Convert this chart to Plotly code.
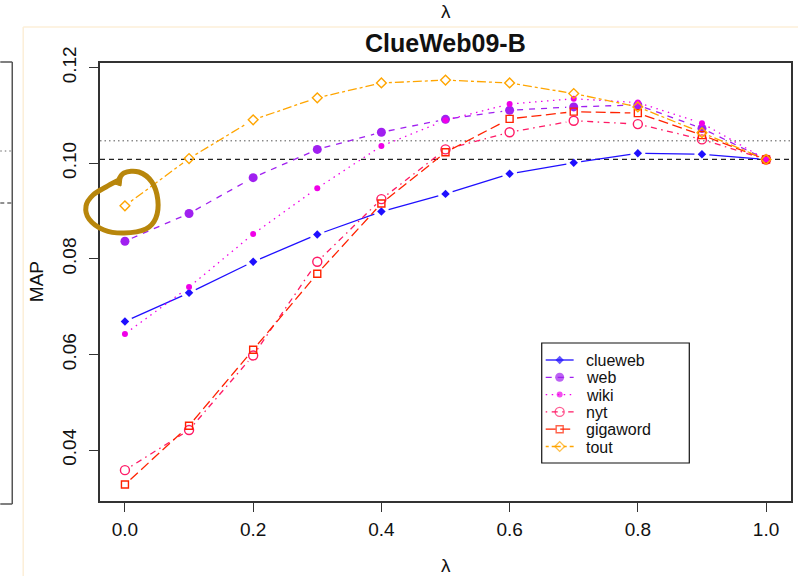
import math
import plotly.graph_objects as go

# ---------------- data ----------------
lam = [0.0, 0.1, 0.2, 0.3, 0.4, 0.5, 0.6, 0.7, 0.8, 0.9, 1.0]
clueweb  = [0.0669, 0.0729, 0.0794, 0.0851, 0.0899, 0.0936, 0.0978, 0.1001, 0.1021, 0.1019, 0.1008]
web      = [0.0837, 0.0895, 0.0970, 0.1029, 0.1065, 0.1092, 0.1111, 0.1118, 0.1122, 0.1073, 0.1008]
wiki     = [0.0643, 0.0741, 0.0852, 0.0948, 0.1036, 0.1090, 0.1124, 0.1135, 0.1127, 0.1084, 0.1008]
nyt      = [0.0358, 0.0442, 0.0598, 0.0794, 0.0925, 0.1029, 0.1065, 0.1089, 0.1082, 0.1050, 0.1008]
gigaword = [0.0328, 0.0451, 0.0610, 0.0769, 0.0916, 0.1023, 0.1093, 0.1108, 0.1105, 0.1059, 0.1008]
tout     = [0.0911, 0.1010, 0.1091, 0.1137, 0.1168, 0.1174, 0.1168, 0.1146, 0.1118, 0.1064, 0.1008]
series_names = ["clueweb", "web", "wiki", "nyt", "gigaword", "tout"]
series_vals = [clueweb, web, wiki, nyt, gigaword, tout]
baseline_dashed = 0.1008
baseline_dotted = 0.1047
x_ticks = [0.0, 0.2, 0.4, 0.6, 0.8, 1.0]
x_ticklabels = ["0.0", "0.2", "0.4", "0.6", "0.8", "1.0"]
y_ticks = [0.04, 0.06, 0.08, 0.10, 0.12]
y_ticklabels = ["0.04", "0.06", "0.08", "0.10", "0.12"]
title = "ClueWeb09-B"
xlabel = "λ"
ylabel = "MAP"

# ---------------- styles ----------------
W, H = 800, 576
ML, MR, MT, MB = 100, 7, 63, 75
PW, PH = W - ML - MR, H - MT - MB
XR = [-0.0389, 1.0389]
YR = [0.02935, 0.12098]
SX = PW / (XR[1] - XR[0])
SY = PH / (YR[1] - YR[0])
FONT = "Liberation Sans, Arial, Helvetica, sans-serif"

styles = {
    "clueweb":  dict(color="#1f0fff", dash="solid",              symbol="diamond",      size=6.5, open=False),
    "web":      dict(color="#a020f0", dash="6px,6px",            symbol="circle",       size=9,   open=False),
    "wiki":     dict(color="#f000e8", dash="1.5px,4.5px",        symbol="circle",       size=6,   open=False),
    "nyt":      dict(color="#ff1a66", dash="1.5px,4.5px,6px,4.5px", symbol="circle-open", size=9, open=True),
    "gigaword": dict(color="#ff2200", dash="10px,4.5px",         symbol="square-open",  size=7,   open=True),
    "tout":     dict(color="#ffa500", dash="3px,3px,9px,3px",    symbol="diamond-open", size=7.5, open=True),
}


def px2paper(px, py):
    return (px - ML) / PW, (H - MB - py) / PH


def gapped(xs, ys, gap=7.5):
    X, Y = [], []
    for i in range(len(xs) - 1):
        dx = (xs[i + 1] - xs[i]) * SX
        dy = (ys[i + 1] - ys[i]) * SY
        L = math.hypot(dx, dy)
        if L <= 2 * gap:
            continue
        f = gap / L
        X += [xs[i] + (xs[i + 1] - xs[i]) * f, xs[i + 1] - (xs[i + 1] - xs[i]) * f, None]
        Y += [ys[i] + (ys[i + 1] - ys[i]) * f, ys[i + 1] - (ys[i + 1] - ys[i]) * f, None]
    return X, Y


fig = go.Figure()

# series lines (R type="b": gaps around points)
for name, vals in zip(series_names, series_vals):
    st = styles[name]
    gx, gy = gapped(lam, vals)
    fig.add_trace(go.Scatter(x=gx, y=gy, mode="lines", showlegend=False, hoverinfo="skip",
                             line=dict(color=st["color"], width=1.3, dash=st["dash"])))
for name, vals in zip(series_names, series_vals):
    st = styles[name]
    mk = dict(symbol=st["symbol"], size=st["size"], color=st["color"])
    if st["open"]:
        mk["line"] = dict(color=st["color"], width=1.4)
    else:
        mk["line"] = dict(width=0)
    fig.add_trace(go.Scatter(x=lam, y=vals, mode="markers", name=name, showlegend=False,
                             marker=mk, cliponaxis=False))

shapes = []
# horizontal reference lines
shapes.append(dict(type="line", xref="paper", yref="y", x0=0, x1=1, y0=baseline_dashed, y1=baseline_dashed,
                   line=dict(color="#222222", width=1.2, dash="5px,4px"), layer="below"))
shapes.append(dict(type="line", xref="paper", yref="y", x0=0, x1=1, y0=baseline_dotted, y1=baseline_dotted,
                   line=dict(color="#555555", width=1, dash="1.5px,3px"), layer="below"))

# ---------------- manual legend (R style) ----------------
LB = (543, 343, 691, 463)
x0, y0 = px2paper(LB[0], LB[1])
x1, y1 = px2paper(LB[2], LB[3])
shapes.append(dict(type="rect", xref="paper", yref="paper", x0=x0, x1=x1, y0=y1, y1=y0,
                   line=dict(color="#111111", width=1.2), fillcolor="white", layer="below"))
annotations = []
for i, name in enumerate(series_names):
    st = styles[name]
    ey = 360 + i * 17.3
    lx0, ly = px2paper(547, ey)
    lx1, _ = px2paper(575, ey)
    mx, _ = px2paper(561, ey)
    tx, ty = px2paper(586, ey + 0.5)
    mk = dict(symbol=st["symbol"], size=[0, st["size"], 0], color=st["color"])
    if st["open"]:
        mk["line"] = dict(color=st["color"], width=1.4)
    else:
        mk["line"] = dict(width=0)
    fig.add_trace(go.Scatter(x=[lx0, mx, lx1], y=[ly, ly, ly], mode="lines+markers", xaxis="x2", yaxis="y2",
                             showlegend=False, hoverinfo="skip", cliponaxis=False,
                             line=dict(color=st["color"], width=1.3, dash=st["dash"]), marker=mk))
    annotations.append(dict(x=tx, y=ty, xref="paper", yref="paper", text=name, showarrow=False,
                            xanchor="left", yanchor="middle", borderpad=0,
                            font=dict(family=FONT, size=16, color="#111111")))

# ---------------- titles ----------------
def ann(px, py, text, size, bold=False, angle=0, color="#111111"):
    ax, ay = px2paper(px, py)
    annotations.append(dict(x=ax, y=ay, xref="paper", yref="paper", text=("<b>%s</b>" % text) if bold else text,
                            showarrow=False, xanchor="center", yanchor="middle", textangle=angle,
                            font=dict(family=FONT, size=size, color=color)))

ann(447, 43, title, 25, bold=True)
ann(447, 565, xlabel, 19)
ann(36, 282, ylabel, 19, angle=-90)
ann(447, 12, xlabel, 19)

# ---------------- decorations: neighbouring panel, frame, hand-drawn circle ----------------
def pline(xa, ya, xb, yb, color, width, dash="solid"):
    a = px2paper(xa, ya)
    b = px2paper(xb, yb)
    shapes.append(dict(type="line", xref="paper", yref="paper", x0=a[0], y0=a[1], x1=b[0], y1=b[1],
                       line=dict(color=color, width=width, dash=dash)))

pline(12, 62, 12, 504, "#555555", 1.5)
pline(0, 62, 12, 62, "#555555", 1.5)
pline(0, 504, 12, 504, "#555555", 1.5)
pline(0, 151, 11, 151, "#666666", 1, "1.5px,3px")
pline(0, 203, 11, 203, "#222222", 1, "4px,3px")
pline(23, 27, 23, 576, "#fcefd8", 1.5)
pline(23, 27, 800, 27, "#fcefd8", 1.5)

circle_pts = [(117, 183), (124, 173), (139, 172), (152, 182), (158, 200), (156, 218), (146, 229),
              (124, 233), (104, 230), (89, 219), (86, 206), (93, 195), (106, 187), (119, 180)]
pp = [px2paper(a, b) for a, b in circle_pts]
path = "M %f %f" % pp[0]
for i in range(len(pp) - 1):
    p0 = pp[i - 1] if i > 0 else pp[i]
    p1, p2 = pp[i], pp[i + 1]
    p3 = pp[i + 2] if i + 2 < len(pp) else pp[i + 1]
    c1 = (p1[0] + (p2[0] - p0[0]) / 6, p1[1] + (p2[1] - p0[1]) / 6)
    c2 = (p2[0] - (p3[0] - p1[0]) / 6, p2[1] - (p3[1] - p1[1]) / 6)
    path += " C %f %f, %f %f, %f %f" % (c1[0], c1[1], c2[0], c2[1], p2[0], p2[1])
shapes.append(dict(type="path", xref="paper", yref="paper", path=path,
                   line=dict(color="#b8860b", width=5), layer="above"))
hook = [px2paper(115, 184), px2paper(122, 178), px2paper(121, 186)]
shapes.append(dict(type="path", xref="paper", yref="paper",
                   path="M %f %f L %f %f L %f %f Z" % (hook[0] + hook[1] + hook[2]),
                   line=dict(color="#b8860b", width=1), fillcolor="#b8860b", layer="above"))

axis_common = dict(showgrid=False, zeroline=False, showline=True, mirror=True, linecolor="#333333",
                   linewidth=1.5, ticks="outside", ticklen=9, tickwidth=1.2, tickcolor="#333333",
                   tickfont=dict(family=FONT, size=19, color="#111111"))

fig.update_layout(
    width=W, height=H,
    margin=dict(l=ML, r=MR, t=MT, b=MB, pad=0),
    paper_bgcolor="white", plot_bgcolor="white",
    xaxis=dict(range=XR, tickvals=x_ticks, ticktext=x_ticklabels, ticklabelstandoff=1, **axis_common),
    yaxis=dict(range=YR, tickvals=y_ticks, ticktext=y_ticklabels, tickangle=-90, ticklabelstandoff=6,
               **axis_common),
    xaxis2=dict(range=[0, 1], overlaying="x", visible=False, anchor="y2", fixedrange=True),
    yaxis2=dict(range=[0, 1], overlaying="y", visible=False, anchor="x2", fixedrange=True),
    shapes=shapes,
    annotations=annotations,
    showlegend=False,
)

fig.write_html("out.html")
